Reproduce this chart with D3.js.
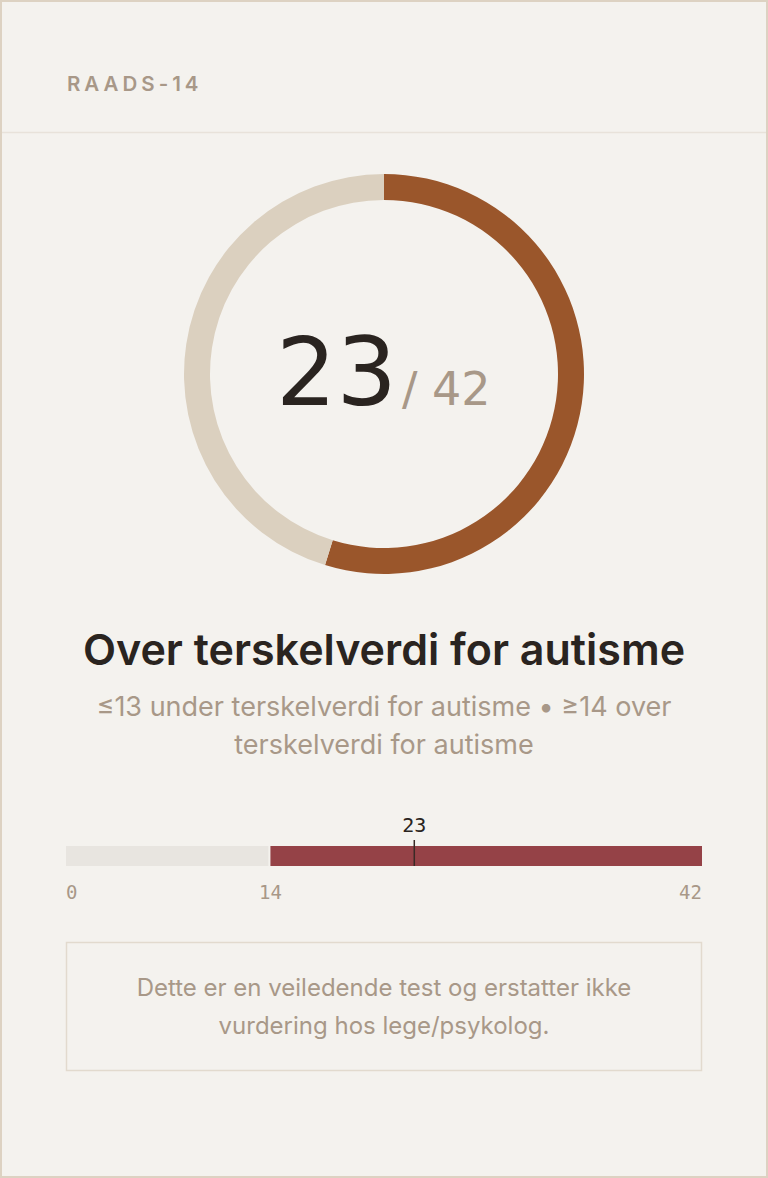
<!DOCTYPE html>
<html lang="no">
<head>
  <meta charset="UTF-8">
  <title>RAADS-14</title>
  <script src="https://d3js.org/d3.v7.min.js"></script>
  <style>
    body {
      margin: 0;
      background: #f4f2ee;
      overflow: hidden;
    }
    svg { display: block; }
    .sans { font-family: Inter, "Noto Sans", sans-serif; }
    .mono { font-family: "DejaVu Sans Mono", monospace; }
  </style>
</head>
<body>
  <script>
    // values
    const title = "RAADS-14";
    const score = 23;
    const maxScore = 42;
    const donutParts = [score, maxScore - score];
    const bandEdges = [0, 13.5, 42];          // under / over threshold
    const tickLabels = ["0", "14", "42"];
    const verdict = "Over terskelverdi for autisme";
    const legendLines = ["≤13 under terskelverdi for autisme • ≥14 over", "terskelverdi for autisme"];
    const noteLines = ["Dette er en veiledende test og erstatter ikke", "vurdering hos lege/psykolog."];

    const W = 768, H = 1178;
    const muted = "#a89888";
    const dark = "#2a2420";

    const svg = d3.select("body").append("svg")
      .attr("width", W).attr("height", H);

    // card frame
    svg.append("rect")
      .attr("x", 1).attr("y", 1).attr("width", W - 2).attr("height", H - 2)
      .attr("fill", "#f4f2ee").attr("stroke", "#ddd2c2").attr("stroke-width", 2);

    svg.append("text").attr("class", "sans")
      .attr("x", 67).attr("y", 91)
      .attr("font-size", 20.5).attr("font-weight", 600)
      .attr("letter-spacing", 4)
      .attr("fill", muted)
      .text(title);

    svg.append("line")
      .attr("x1", 2).attr("x2", W - 2).attr("y1", 132.5).attr("y2", 132.5)
      .attr("stroke", "#e8e2da").attr("stroke-width", 1.5);

    // donut
    const cx = 384, cy = 374;
    const pie = d3.pie().sort(null);
    const arc = d3.arc().innerRadius(174).outerRadius(200);
    const g = svg.append("g").attr("transform", `translate(${cx},${cy})`);
    g.selectAll("path")
      .data(pie(donutParts))
      .join("path")
      .attr("d", arc)
      .attr("fill", (d, i) => i === 0 ? "#9a562b" : "#dbd0bf");

    const num = svg.append("text")
      .attr("y", 405)
      .attr("font-family", "'DejaVu Sans', sans-serif");
    num.append("tspan")
      .attr("x", 276)
      .attr("font-size", 95).attr("fill", dark)
      .text(score);
    num.append("tspan")
      .attr("dx", 5)
      .attr("font-size", 46).attr("fill", muted)
      .text("/ " + maxScore);

    // verdict
    svg.append("text").attr("class", "sans")
      .attr("x", cx).attr("y", 665)
      .attr("text-anchor", "middle")
      .attr("font-size", 43).attr("font-weight", 600)
      .attr("fill", dark)
      .text(verdict);

    svg.append("g").selectAll("text")
      .data(legendLines)
      .join("text").attr("class", "sans")
      .attr("x", cx).attr("y", (d, i) => 716 + i * 38)
      .attr("text-anchor", "middle")
      .attr("font-size", 27).attr("fill", muted)
      .text(d => d);

    // threshold bar
    const x = d3.scaleLinear().domain([0, maxScore]).range([66, 702]);
    const barY = 846, barH = 20;
    const bands = d3.pairs(bandEdges);
    svg.append("g").selectAll("rect")
      .data(bands)
      .join("rect")
      .attr("x", d => x(d[0]))
      .attr("width", (d, i) => x(d[1]) - x(d[0]) - (i ? 0 : 2))
      .attr("y", barY).attr("height", barH)
      .attr("fill", (d, i) => i === 0 ? "#e8e5e0" : "#954247");

    svg.append("line")
      .attr("x1", x(score)).attr("x2", x(score))
      .attr("y1", barY - 6).attr("y2", barY + barH)
      .attr("stroke", "#3a2a26").attr("stroke-width", 1.5);

    svg.append("text").attr("class", "mono")
      .attr("x", x(score)).attr("y", 832)
      .attr("text-anchor", "middle")
      .attr("font-size", 20).attr("fill", dark)
      .text(score);

    svg.append("g").selectAll("text")
      .data(bandEdges)
      .join("text").attr("class", "mono")
      .attr("x", d => x(d))
      .attr("y", 899)
      .attr("text-anchor", (d, i) => i === 0 ? "start" : i === bandEdges.length - 1 ? "end" : "middle")
      .attr("font-size", 19).attr("fill", muted)
      .text((d, i) => tickLabels[i]);

    // note box
    svg.append("rect")
      .attr("x", 66.5).attr("y", 942.5).attr("width", 635).attr("height", 128)
      .attr("fill", "none").attr("stroke", "#e2dace").attr("stroke-width", 1.5);

    svg.append("g").selectAll("text")
      .data(noteLines)
      .join("text").attr("class", "sans")
      .attr("x", cx).attr("y", (d, i) => 996 + i * 38)
      .attr("text-anchor", "middle")
      .attr("font-size", 24).attr("fill", muted)
      .text(d => d);
  </script>
</body>
</html>
